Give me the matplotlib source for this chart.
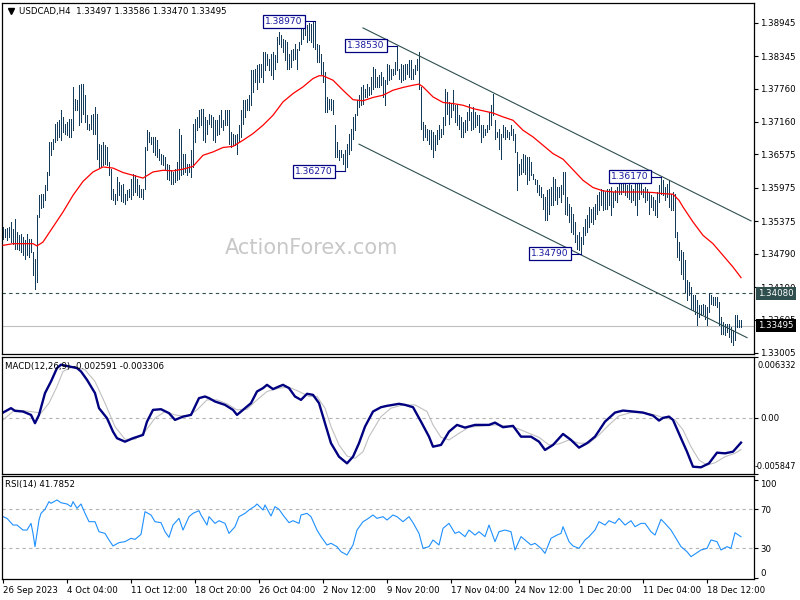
import numpy as np
import matplotlib
matplotlib.use("Agg")
import matplotlib.pyplot as plt
from matplotlib.transforms import blended_transform_factory

# ---- price bars (H4, 26 Sep 20:00 -> 21 Dec) ------------------------------
high = [
    1.3527, 1.3524, 1.3525, 1.3527, 1.3536, 1.3523, 1.3542, 1.3518, 1.3513, 1.3515,
    1.3509, 1.3503, 1.3515, 1.3506, 1.3506, 1.3482, 1.3470, 1.3548, 1.3584, 1.3587,
    1.3587, 1.3602, 1.3626, 1.3680, 1.3680, 1.3686, 1.3713, 1.3716, 1.3719, 1.3737,
    1.3725, 1.3713, 1.3716, 1.3722, 1.3722, 1.3779, 1.3758, 1.3755, 1.3782, 1.3785,
    1.3785, 1.3764, 1.3728, 1.3713, 1.3728, 1.3731, 1.3743, 1.3731, 1.3677, 1.3674,
    1.3680, 1.3674, 1.3671, 1.3644, 1.3632, 1.3596, 1.3587, 1.3617, 1.3608, 1.3602,
    1.3605, 1.3587, 1.3593, 1.3596, 1.3614, 1.3623, 1.3620, 1.3614, 1.3602, 1.3596,
    1.3596, 1.3671, 1.3701, 1.3698, 1.3689, 1.3689, 1.3689, 1.3683, 1.3668, 1.3659,
    1.3656, 1.3653, 1.3641, 1.3638, 1.3629, 1.3626, 1.3632, 1.3644, 1.3704, 1.3692,
    1.3659, 1.3659, 1.3641, 1.3641, 1.3665, 1.3713, 1.3722, 1.3725, 1.3737, 1.3740,
    1.3740, 1.3725, 1.3719, 1.3731, 1.3728, 1.3725, 1.3719, 1.3719, 1.3728, 1.3737,
    1.3719, 1.3737, 1.3737, 1.3737, 1.3698, 1.3695, 1.3692, 1.3695, 1.3710, 1.3737,
    1.3755, 1.3755, 1.3758, 1.3764, 1.3809, 1.3809, 1.3812, 1.3818, 1.3821, 1.3821,
    1.3842, 1.3842, 1.3839, 1.3830, 1.3839, 1.3842, 1.3836, 1.3869, 1.3878, 1.3872,
    1.3866, 1.3863, 1.3860, 1.3839, 1.3845, 1.3848, 1.3857, 1.3848, 1.3860, 1.3887,
    1.3893, 1.3890, 1.3890, 1.3893, 1.3892, 1.3896, 1.3897, 1.3857, 1.3854, 1.3839,
    1.3824, 1.3806, 1.3761, 1.3758, 1.3758, 1.3755, 1.3710, 1.3680, 1.3665, 1.3665,
    1.3659, 1.3665, 1.3677, 1.3695, 1.3704, 1.3725, 1.3731, 1.3755, 1.3764, 1.3779,
    1.3782, 1.3776, 1.3785, 1.3779, 1.3797, 1.3815, 1.3812, 1.3797, 1.3800, 1.3806,
    1.3797, 1.3791, 1.3821, 1.3818, 1.3812, 1.3812, 1.3824, 1.3853, 1.3812, 1.3821,
    1.3818, 1.3821, 1.3821, 1.3827, 1.3827, 1.3812, 1.3818, 1.3830, 1.3842, 1.3779,
    1.3716, 1.3710, 1.3704, 1.3701, 1.3701, 1.3698, 1.3692, 1.3701, 1.3710, 1.3704,
    1.3725, 1.3776, 1.3770, 1.3752, 1.3749, 1.3773, 1.3746, 1.3746, 1.3728, 1.3725,
    1.3716, 1.3719, 1.3734, 1.3749, 1.3734, 1.3743, 1.3734, 1.3728, 1.3728, 1.3710,
    1.3710, 1.3704, 1.3710, 1.3734, 1.3746, 1.3767, 1.3719, 1.3698, 1.3704, 1.3695,
    1.3710, 1.3707, 1.3701, 1.3698, 1.3710, 1.3704, 1.3695, 1.3662, 1.3641, 1.3650,
    1.3659, 1.3656, 1.3653, 1.3653, 1.3644, 1.3623, 1.3614, 1.3611, 1.3602, 1.3599,
    1.3587, 1.3581, 1.3593, 1.3596, 1.3599, 1.3617, 1.3614, 1.3599, 1.3599, 1.3602,
    1.3626, 1.3626, 1.3581, 1.3569, 1.3563, 1.3551, 1.3536, 1.3512, 1.3518, 1.3509,
    1.3527, 1.3542, 1.3548, 1.3563, 1.3560, 1.3563, 1.3569, 1.3584, 1.3590, 1.3596,
    1.3593, 1.3590, 1.3596, 1.3596, 1.3599, 1.3590, 1.3593, 1.3599, 1.3611, 1.3614,
    1.3617, 1.3617, 1.3602, 1.3611, 1.3602, 1.3596, 1.3614, 1.3605, 1.3611, 1.3614,
    1.3596, 1.3599, 1.3596, 1.3590, 1.3584, 1.3581, 1.3575, 1.3590, 1.3602, 1.3617,
    1.3611, 1.3599, 1.3605, 1.3611, 1.3587, 1.3590, 1.3587, 1.3518, 1.3500, 1.3485,
    1.3482, 1.3467, 1.3431, 1.3428, 1.3419, 1.3404, 1.3404, 1.3395, 1.3386, 1.3386,
    1.3389, 1.3386, 1.3383, 1.3408, 1.3404, 1.3401, 1.3401, 1.3401, 1.3392, 1.3365,
    1.3356, 1.3353, 1.3353, 1.3353, 1.3347, 1.3341, 1.3368, 1.3368, 1.3359, 1.3359,
]
low = [
    1.3506, 1.3509, 1.3503, 1.3509, 1.3500, 1.3497, 1.3488, 1.3488, 1.3485, 1.3482,
    1.3476, 1.3470, 1.3476, 1.3473, 1.3482, 1.3440, 1.3416, 1.3428, 1.3545, 1.3561,
    1.3563, 1.3575, 1.3593, 1.3620, 1.3656, 1.3668, 1.3680, 1.3683, 1.3689, 1.3683,
    1.3698, 1.3695, 1.3692, 1.3689, 1.3689, 1.3701, 1.3737, 1.3737, 1.3710, 1.3716,
    1.3731, 1.3716, 1.3704, 1.3701, 1.3704, 1.3695, 1.3695, 1.3650, 1.3635, 1.3635,
    1.3638, 1.3641, 1.3638, 1.3620, 1.3578, 1.3575, 1.3569, 1.3575, 1.3584, 1.3573,
    1.3572, 1.3569, 1.3575, 1.3581, 1.3578, 1.3584, 1.3590, 1.3584, 1.3581, 1.3581,
    1.3578, 1.3596, 1.3665, 1.3680, 1.3677, 1.3662, 1.3656, 1.3653, 1.3647, 1.3641,
    1.3638, 1.3632, 1.3614, 1.3611, 1.3605, 1.3605, 1.3608, 1.3611, 1.3614, 1.3620,
    1.3623, 1.3626, 1.3620, 1.3626, 1.3617, 1.3635, 1.3680, 1.3701, 1.3707, 1.3710,
    1.3683, 1.3680, 1.3695, 1.3713, 1.3707, 1.3683, 1.3680, 1.3692, 1.3695, 1.3707,
    1.3701, 1.3710, 1.3710, 1.3677, 1.3671, 1.3674, 1.3674, 1.3659, 1.3680, 1.3689,
    1.3713, 1.3725, 1.3737, 1.3737, 1.3746, 1.3770, 1.3788, 1.3776, 1.3788, 1.3797,
    1.3788, 1.3809, 1.3818, 1.3809, 1.3800, 1.3794, 1.3812, 1.3824, 1.3857, 1.3851,
    1.3842, 1.3827, 1.3812, 1.3812, 1.3815, 1.3827, 1.3830, 1.3812, 1.3845, 1.3857,
    1.3866, 1.3872, 1.3860, 1.3863, 1.3860, 1.3851, 1.3848, 1.3824, 1.3824, 1.3803,
    1.3788, 1.3734, 1.3734, 1.3740, 1.3737, 1.3731, 1.3653, 1.3653, 1.3647, 1.3653,
    1.3641, 1.3627, 1.3635, 1.3659, 1.3665, 1.3686, 1.3701, 1.3728, 1.3743, 1.3746,
    1.3749, 1.3761, 1.3761, 1.3764, 1.3767, 1.3776, 1.3779, 1.3779, 1.3779, 1.3782,
    1.3761, 1.3746, 1.3785, 1.3791, 1.3794, 1.3800, 1.3803, 1.3809, 1.3794, 1.3788,
    1.3791, 1.3794, 1.3803, 1.3797, 1.3794, 1.3794, 1.3803, 1.3809, 1.3776, 1.3704,
    1.3683, 1.3689, 1.3683, 1.3677, 1.3668, 1.3653, 1.3665, 1.3677, 1.3686, 1.3689,
    1.3695, 1.3710, 1.3731, 1.3713, 1.3725, 1.3737, 1.3716, 1.3710, 1.3704, 1.3689,
    1.3689, 1.3698, 1.3701, 1.3719, 1.3701, 1.3704, 1.3707, 1.3710, 1.3698, 1.3680,
    1.3689, 1.3692, 1.3698, 1.3704, 1.3710, 1.3728, 1.3686, 1.3689, 1.3668, 1.3650,
    1.3689, 1.3686, 1.3689, 1.3686, 1.3692, 1.3683, 1.3662, 1.3593, 1.3620, 1.3623,
    1.3626, 1.3623, 1.3605, 1.3611, 1.3620, 1.3614, 1.3605, 1.3590, 1.3584, 1.3581,
    1.3560, 1.3539, 1.3539, 1.3551, 1.3566, 1.3566, 1.3575, 1.3569, 1.3581, 1.3572,
    1.3587, 1.3551, 1.3548, 1.3536, 1.3518, 1.3515, 1.3500, 1.3488, 1.3485, 1.3479,
    1.3497, 1.3512, 1.3518, 1.3527, 1.3536, 1.3533, 1.3542, 1.3551, 1.3557, 1.3566,
    1.3557, 1.3560, 1.3560, 1.3566, 1.3548, 1.3563, 1.3575, 1.3572, 1.3587, 1.3587,
    1.3590, 1.3584, 1.3581, 1.3578, 1.3572, 1.3575, 1.3566, 1.3548, 1.3578, 1.3587,
    1.3581, 1.3572, 1.3575, 1.3551, 1.3563, 1.3557, 1.3548, 1.3545, 1.3572, 1.3587,
    1.3584, 1.3575, 1.3581, 1.3563, 1.3557, 1.3557, 1.3509, 1.3473, 1.3467, 1.3443,
    1.3434, 1.3410, 1.3395, 1.3404, 1.3380, 1.3377, 1.3371, 1.3350, 1.3365, 1.3368,
    1.3371, 1.3362, 1.3350, 1.3374, 1.3389, 1.3386, 1.3386, 1.3383, 1.3350, 1.3335,
    1.3335, 1.3332, 1.3338, 1.3329, 1.3320, 1.3314, 1.3323, 1.3347, 1.3347, 1.3347,
]

# red moving average, read at selected bars
ma_idx = [0, 5, 10, 15, 17, 20, 25, 30, 35, 40, 45, 50, 55, 60, 65, 70, 75, 80, 85, 90,
          95, 100, 105, 110, 115, 120, 125, 130, 135, 140, 145, 150, 155, 158, 160, 165,
          170, 175, 180, 185, 190, 195, 200, 205, 208, 210, 215, 220, 225, 230, 235,
          240, 245, 250, 255, 260, 265, 270, 275, 280, 285, 290, 295, 300, 305, 310,
          315, 320, 325, 330, 335, 338, 340, 345, 350, 355, 360, 365, 369]
ma_val = [1.3494, 1.3497, 1.3497, 1.3497, 1.3493, 1.3500, 1.3527, 1.3554, 1.3584, 1.3609,
          1.3626, 1.3635, 1.3633, 1.3625, 1.3620, 1.3615, 1.3626, 1.3629, 1.3628, 1.3631,
          1.3636, 1.3656, 1.3662, 1.3670, 1.3672, 1.3683, 1.3695, 1.3710, 1.3728, 1.3752,
          1.3767, 1.3779, 1.3794, 1.3799, 1.3799, 1.3791, 1.3773, 1.3756, 1.3754, 1.3760,
          1.3764, 1.3773, 1.3778, 1.3782, 1.3784, 1.3779, 1.3761, 1.3751, 1.3749, 1.3746,
          1.3740, 1.3736, 1.3732, 1.3725, 1.3719, 1.3701, 1.3689, 1.3674, 1.3659, 1.3649,
          1.3630, 1.3611, 1.3598, 1.3592, 1.3590, 1.3590, 1.3590, 1.3590, 1.3589, 1.3587,
          1.3586, 1.3575, 1.3563, 1.3536, 1.3512, 1.3497, 1.3476, 1.3455, 1.3436]

# swing labels and the descending channel
swing_idx = [156, 197, 171, 289, 329]
swing_px = [1.38970, 1.38530, 1.36270, 1.34790, 1.36170]
chan_idx = [[180, 374], [178, 372]]
chan_px = [[1.3885, 1.3538], [1.3676, 1.3328]]
level = 1.34080
last_px = 1.33495
price_ticks = [1.38945, 1.38345, 1.37760, 1.37160, 1.36575, 1.35975,
               1.35375, 1.34790, 1.34190, 1.33605, 1.33005]

# MACD(12,26,9)
macd_idx = [0, 4, 6, 10, 14, 16, 18, 21, 24, 27, 29, 33, 37, 39, 42, 46, 48, 52, 55, 57,
            61, 65, 70, 72, 75, 79, 83, 86, 90, 94, 98, 101, 103, 106, 111, 115, 117, 120,
            124, 127, 130, 132, 135, 138, 140, 143, 146, 149, 152, 155, 158, 162, 164, 168,
            172, 175, 178, 181, 185, 189, 192, 198, 201, 205, 209, 213, 215, 219, 223, 227,
            231, 236, 240, 243, 246, 250, 255, 259, 264, 268, 271, 275, 280, 284, 288, 292,
            296, 301, 306, 310, 315, 320, 325, 328, 330, 333, 335, 339, 342, 345, 349, 353,
            357, 361, 365, 369]
macd_val = [0.00053, 0.00099, 0.00071, 0.00064, 0.00029, -0.00057, 0.00029, 0.00255,
            0.00376, 0.00515, 0.00550, 0.00532, 0.00515, 0.00480, 0.00393, 0.00255,
            0.00099, -0.00005, -0.00145, -0.00213, -0.00249, -0.00213, -0.00179, -0.00041,
            0.00081, 0.00088, 0.00047, -0.00023, 0.00011, 0.00029, 0.00203, 0.00220,
            0.00203, 0.00168, 0.00133, 0.00081, 0.00029, 0.00081, 0.00151, 0.00272,
            0.00307, 0.00341, 0.00297, 0.00324, 0.00341, 0.00307, 0.00220, 0.00185,
            0.00248, 0.00237, 0.00151, -0.00127, -0.00265, -0.00405, -0.00474, -0.00405,
            -0.00265, -0.00093, 0.00064, 0.00109, 0.00123, 0.00144, 0.00133, 0.00109,
            -0.00041, -0.00197, -0.00301, -0.00283, -0.00145, -0.00075, -0.00103, -0.00075,
            -0.00075, -0.00075, -0.00051, -0.00099, -0.00085, -0.00197, -0.00197, -0.00249,
            -0.00335, -0.00283, -0.00169, -0.00231, -0.00311, -0.00265, -0.00197, -0.00041,
            0.00053, 0.00074, 0.00064, 0.00053, 0.00022, -0.00030, -0.00002, 0.00011,
            -0.00023, -0.00213, -0.00353, -0.00509, -0.00515, -0.00474, -0.00363, -0.00370,
            -0.00353, -0.00259]
sig_idx = [0, 6, 14, 19, 23, 27, 30, 35, 41, 46, 51, 56, 61, 66, 71, 76, 81, 86, 92, 97,
           102, 107, 112, 117, 122, 127, 132, 138, 143, 148, 153, 157, 161, 164, 168, 172,
           176, 180, 183, 189, 194, 200, 206, 212, 215, 219, 223, 228, 233, 240, 246, 252,
           257, 263, 268, 273, 278, 283, 288, 293, 298, 303, 308, 314, 320, 326, 331, 336,
           340, 344, 348, 352, 356, 361, 366, 369]
sig_val = [-0.00023, 0.00081, 0.00064, 0.00047, 0.00151, 0.00324, 0.00480, 0.00532,
           0.00498, 0.00376, 0.00151, -0.00093, -0.00224, -0.00224, -0.00145, -0.00005,
           0.00064, 0.00029, 0.00011, 0.00081, 0.00185, 0.00185, 0.00144, 0.00081, 0.00088,
           0.00185, 0.00272, 0.00307, 0.00317, 0.00272, 0.00220, 0.00220, 0.00099, -0.00093,
           -0.00283, -0.00398, -0.00422, -0.00353, -0.00197, 0.00011, 0.00099, 0.00133,
           0.00133, 0.00064, -0.00075, -0.00204, -0.00231, -0.00162, -0.00099, -0.00085,
           -0.00075, -0.00085, -0.00110, -0.00162, -0.00204, -0.00283, -0.00272, -0.00231,
           -0.00265, -0.00265, -0.00179, -0.00075, 0.00019, 0.00053, 0.00053, 0.00029,
           -0.00005, -0.00023, -0.00127, -0.00301, -0.00440, -0.00492, -0.00468, -0.00405,
           -0.00370, -0.00331]
macd_top, macd_bot = 0.006332, -0.005847

# RSI(14)
rsi_idx = [0, 2, 5, 7, 10, 12, 14, 15, 16, 18, 19, 21, 23, 24, 27, 29, 32, 34, 35, 37,
           39, 41, 43, 46, 48, 51, 53, 55, 58, 61, 64, 66, 69, 71, 74, 76, 79, 81, 83, 85,
           88, 90, 93, 95, 98, 99, 102, 103, 106, 108, 111, 113, 116, 118, 121, 123, 126,
           127, 130, 131, 134, 136, 138, 140, 143, 145, 148, 149, 152, 154, 157, 159, 162,
           164, 167, 169, 172, 175, 177, 180, 182, 185, 187, 190, 192, 195, 197, 200, 203,
           205, 208, 210, 213, 215, 218, 220, 223, 226, 228, 231, 233, 236, 238, 241, 243,
           246, 248, 251, 254, 256, 259, 261, 264, 266, 269, 271, 274, 277, 279, 280, 283,
           285, 288, 291, 293, 296, 298, 301, 303, 306, 308, 311, 314, 316, 319, 321, 324,
           326, 329, 331, 334, 337, 339, 342, 344, 347, 349, 352, 354, 357, 359, 362, 364,
           366, 369]
rsi_val = [62.2, 60.5, 53.7, 53.7, 48.6, 48.6, 55.4, 45.2, 31.7, 58.8, 65.6, 69.7, 77.5,
           75.8, 79.2, 76.4, 75.1, 72.4, 77.5, 70.7, 75.1, 65.6, 57.1, 57.1, 46.9, 45.2,
           38.5, 32.4, 35.8, 36.8, 40.2, 39.1, 44.2, 67.3, 63.9, 57.1, 56.1, 46.9, 41.2,
           53.7, 60.5, 48.6, 62.2, 65.6, 68.3, 63.9, 53.7, 62.2, 55.4, 58.1, 55.4, 45.2,
           52.0, 62.2, 65.6, 69.0, 73.0, 75.1, 69.0, 74.1, 62.9, 72.4, 69.7, 63.9, 56.1,
           58.1, 55.4, 63.9, 65.6, 62.2, 48.6, 41.9, 33.4, 35.1, 31.7, 26.6, 23.2, 33.4,
           48.6, 57.1, 59.5, 63.9, 60.5, 62.2, 58.8, 63.9, 62.2, 57.1, 62.2, 56.1, 45.2,
           30.0, 31.7, 38.5, 33.4, 50.3, 55.4, 45.2, 46.9, 41.9, 48.6, 43.5, 46.9, 41.9,
           53.7, 36.8, 46.9, 48.6, 46.9, 28.3, 41.9, 38.5, 33.4, 35.1, 30.0, 24.9, 40.2,
           43.5, 45.2, 52.0, 36.8, 32.4, 30.0, 38.5, 41.9, 48.6, 57.1, 53.7, 58.1, 55.4,
           60.5, 53.7, 58.1, 52.0, 55.4, 55.4, 46.9, 43.5, 59.5, 55.4, 48.6, 38.5, 31.7,
           26.6, 21.5, 25.6, 28.3, 30.0, 38.5, 36.8, 28.3, 31.7, 30.0, 45.9, 41.8]

date_idx = [0, 32, 64, 96, 128, 160, 192, 224, 256, 288, 320, 352]
date_lbl = ["26 Sep 2023", "4 Oct 04:00", "11 Oct 12:00", "18 Oct 20:00", "26 Oct 04:00",
            "2 Nov 12:00", "9 Nov 20:00", "17 Nov 04:00", "24 Nov 12:00", "1 Dec 20:00",
            "11 Dec 04:00", "18 Dec 12:00"]

BAR = "#143c5a"
NAVY = "#000080"
SLATE = "#2f4f4f"
FS = 6.2
plt.rcParams["font.family"] = "DejaVu Sans"

fig = plt.figure(figsize=(8, 6), dpi=100)
ax = fig.add_axes([0.0025, 0.41, 0.94, 0.5855])
ax2 = fig.add_axes([0.0025, 0.21, 0.94, 0.1955])
ax3 = fig.add_axes([0.0025, 0.035, 0.94, 0.1717])

for a in (ax, ax2, ax3):
    a.set_xlim(-0.5, 375.5)
    a.yaxis.tick_right()
    a.tick_params(axis="y", direction="out", length=3, width=0.8, labelsize=FS, pad=1.5)
    a.tick_params(axis="x", bottom=False, labelbottom=False)
    for s in a.spines.values():
        s.set_linewidth(0.9)

# ---- main price panel ----------------------------------------------------
x = np.arange(len(high))
ax.vlines(x, low, high, color=BAR, lw=0.55, antialiased=False, zorder=2)
ax.plot(ma_idx, ma_val, color="red", lw=0.9, zorder=3)
for cx, cy in zip(chan_idx, chan_px):
    ax.plot(cx, cy, color=SLATE, lw=0.8, zorder=2)
ax.axhline(level, color=SLATE, lw=0.8, ls=(0, (3, 3)), zorder=1)
ax.axhline(last_px, color="#c0c0c0", lw=0.8, zorder=1)
ax.set_ylim(1.32986, 1.39304)
ax.set_yticks(price_ticks)
ax.set_yticklabels([f"{p:.5f}" for p in price_ticks])

for k, p in zip(swing_idx, swing_px):
    ax.plot([k - 5, k], [p, p], color=NAVY, lw=0.8, zorder=4)
    ax.text(k - 6.2, p, f"{p:.5f}", ha="right", va="center", fontsize=6.6,
            color="#1a1aa0", zorder=5,
            bbox=dict(boxstyle="square,pad=0.22", fc="white", ec=NAVY, lw=0.9))

bt = blended_transform_factory(ax.transAxes, ax.transData)
ax.text(1.006, level, f"{level:.5f}", transform=bt, ha="left", va="center",
        fontsize=FS, color="white", clip_on=False, zorder=10,
        bbox=dict(boxstyle="square,pad=0.25", fc=SLATE, ec="none"))
ax.text(1.006, last_px, f"{last_px:.5f}", transform=bt, ha="left", va="center",
        fontsize=FS, color="white", clip_on=False, zorder=10,
        bbox=dict(boxstyle="square,pad=0.25", fc="black", ec="none"))

ax.plot([0.012], [0.976], marker="v", ms=4, color="black", transform=ax.transAxes)
ax.text(0.022, 0.976, "USDCAD,H4  1.33497 1.33586 1.33470 1.33495",
        transform=ax.transAxes, ha="left", va="center", fontsize=FS)
ax.text(0.411, 0.302, "ActionForex.com", transform=ax.transAxes, ha="center",
        va="center", fontsize=15, color="#c8c8c8", zorder=1)

# ---- MACD panel ----------------------------------------------------------
ax2.axhline(0, color="#b4b4b4", lw=0.8, ls=(0, (3, 3)))
ax2.plot(sig_idx, sig_val, color="#c0c0c0", lw=0.8)
ax2.plot(macd_idx, macd_val, color=NAVY, lw=1.7)
ax2.set_ylim(macd_bot, macd_top)
ax2.set_yticks([macd_top, 0.0, macd_bot])
ax2.set_yticklabels(["", "0.00", ""])
ax2.text(1.004, 0.921, f"{macd_top:.6f}", transform=ax2.transAxes, ha="left",
         va="center", fontsize=5.9, clip_on=False)
ax2.text(1.001, 0.068, f"{macd_bot:.6f}", transform=ax2.transAxes, ha="left",
         va="center", fontsize=5.9, clip_on=False)
ax2.text(0.004, 0.92, "MACD(12,26,9) -0.002591 -0.003306", transform=ax2.transAxes,
         ha="left", va="center", fontsize=FS)

# ---- RSI panel -----------------------------------------------------------
for lv in (70, 30):
    ax3.axhline(lv, color="#b4b4b4", lw=0.8, ls=(0, (3, 3)))
ax3.plot(rsi_idx, rsi_val, color="#1e90ff", lw=0.8)
ax3.set_ylim(-1.2, 103.6)
ax3.set_yticks([100, 70, 30, 0])
ax3.set_yticklabels(["100", "70", "30", "0"])
tl = ax3.get_yticklabels()
tl[0].set_va("top")
tl[3].set_va("bottom")
ax3.text(0.004, 0.913, "RSI(14) 41.7852", transform=ax3.transAxes,
         ha="left", va="center", fontsize=FS)

ax3.set_xticks(date_idx)
ax3.set_xticklabels(date_lbl)
ax3.tick_params(axis="x", bottom=True, labelbottom=True, direction="out", length=3,
                width=0.8, labelsize=FS, pad=2)
for lbl in ax3.get_xticklabels():
    lbl.set_ha("left")

fig.savefig("out.png", dpi=100)
